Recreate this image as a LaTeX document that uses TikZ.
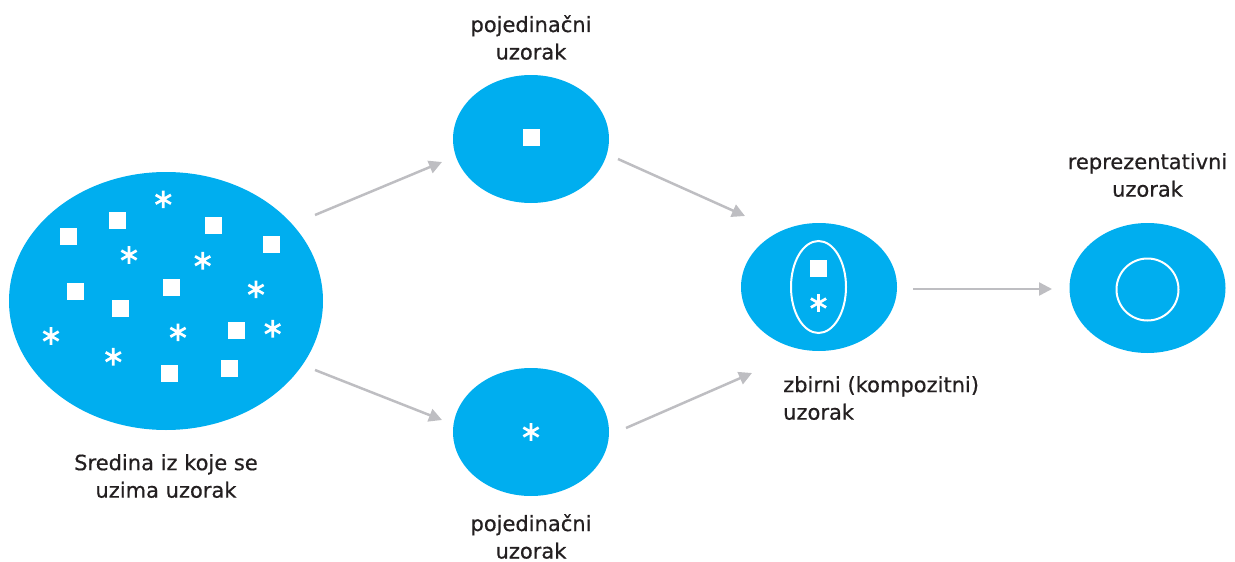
\documentclass[tikz,border=0pt]{standalone}
\usepackage{fontspec}
\setmainfont{DejaVu Sans}
\newfontfamily\lblfont{DejaVu Sans}[FakeBold=0.6]
\usetikzlibrary{shapes.geometric,arrows.meta}
\definecolor{blob}{RGB}{0,174,239}
\definecolor{arr}{RGB}{190,190,194}
\definecolor{txt}{RGB}{35,31,32}
\tikzset{
  blob/.style={ellipse,fill=blob,draw=none,inner sep=0pt},
  sq/.style={rectangle,fill=white,draw=none,inner sep=0pt,minimum size=17pt},
  ring/.style={draw=white,line width=2pt,fill=none},
  flow/.style={draw=arr,line width=2.5pt,-{Triangle[length=13pt,width=13pt]}},
  lbl/.style={text=txt,font=\lblfont\fontsize{21}{27.5}\selectfont,inner sep=0pt,align=center},
  astk/.pic={\draw[white,line width=2.7pt] (90:8.8)--(-90:8.8) (30:8.8)--(210:8.8) (150:8.8)--(-30:8.8);}
}
\begin{document}
\begin{tikzpicture}[x=1pt,y=-1pt]
\useasboundingbox (0,0) rectangle (1235,562);
% ellipses
\node[blob,minimum width=314pt,minimum height=258pt] (big) at (166,301) {};
\node[blob,minimum width=156pt,minimum height=128pt] (top) at (531,139) {};
\node[blob,minimum width=156pt,minimum height=128pt] (bot) at (531,432) {};
\node[blob,minimum width=156pt,minimum height=128pt] (comp) at (819,287) {};
\node[blob,minimum width=156pt,minimum height=130pt] (rep) at (1147.5,288) {};
% big ellipse content
\node[sq] (s1) at (68.5,236.5) {};
\node[sq] (s2) at (117.5,220.5) {};
\node[sq] (s3) at (213.5,225.5) {};
\node[sq] (s4) at (271.5,244.5) {};
\node[sq] (s5) at (75.5,291.5) {};
\node[sq] (s6) at (171.5,287.5) {};
\node[sq] (s7) at (120.5,308.5) {};
\node[sq] (s8) at (236.5,330.5) {};
\node[sq] (s9) at (169.5,373.5) {};
\node[sq] (s10) at (229.5,368.5) {};
\pic at (163.3,199.3) {astk};
\pic at (129,255) {astk};
\pic at (202.7,260.7) {astk};
\pic at (256,289.3) {astk};
\pic at (51,336) {astk};
\pic at (178,332.3) {astk};
\pic at (272.7,328.7) {astk};
\pic at (113.3,356.7) {astk};
% single samples
\node[sq] (stop) at (531,137) {};
\pic at (531,432) {astk};
% composite
\node[ellipse,ring,minimum width=55pt,minimum height=92pt,inner sep=0pt] (inner) at (818.5,287) {};
\node[sq] (scomp) at (818.5,268.5) {};
\pic at (818.5,303) {astk};
% representative
\node[circle,ring,minimum size=62pt,inner sep=0pt] (circ) at (1147.5,289.5) {};
% arrows
\coordinate (a1s) at (315,215); \coordinate (a1e) at (442,162);
\coordinate (a2s) at (618,159); \coordinate (a2e) at (745,216);
\coordinate (a3s) at (315,370); \coordinate (a3e) at (442,420);
\coordinate (a4s) at (626,428); \coordinate (a4e) at (752,373);
\coordinate (a5s) at (913,289); \coordinate (a5e) at (1052,289);
\draw[flow] (a1s) -- (a1e);
\draw[flow] (a2s) -- (a2e);
\draw[flow] (a3s) -- (a3e);
\draw[flow] (a4s) -- (a4e);
\draw[flow] (a5s) -- (a5e);
% labels
\node[lbl,anchor=north] (ltop) at (531,15) {pojedinačni\\uzorak};
\node[lbl,anchor=north] (lbot) at (531,514) {pojedinačni\\uzorak};
\node[lbl,anchor=north] (lbig) at (166,454) {Sredina iz koje se\\uzima uzorak};
\node[lbl,anchor=north west,align=left] (lcomp) at (783,376) {zbirni (kompozitni)\\uzorak};
\node[lbl,anchor=north] (lrep) at (1147.5,153) {reprezentativni\\uzorak};
\end{tikzpicture}
\end{document}
